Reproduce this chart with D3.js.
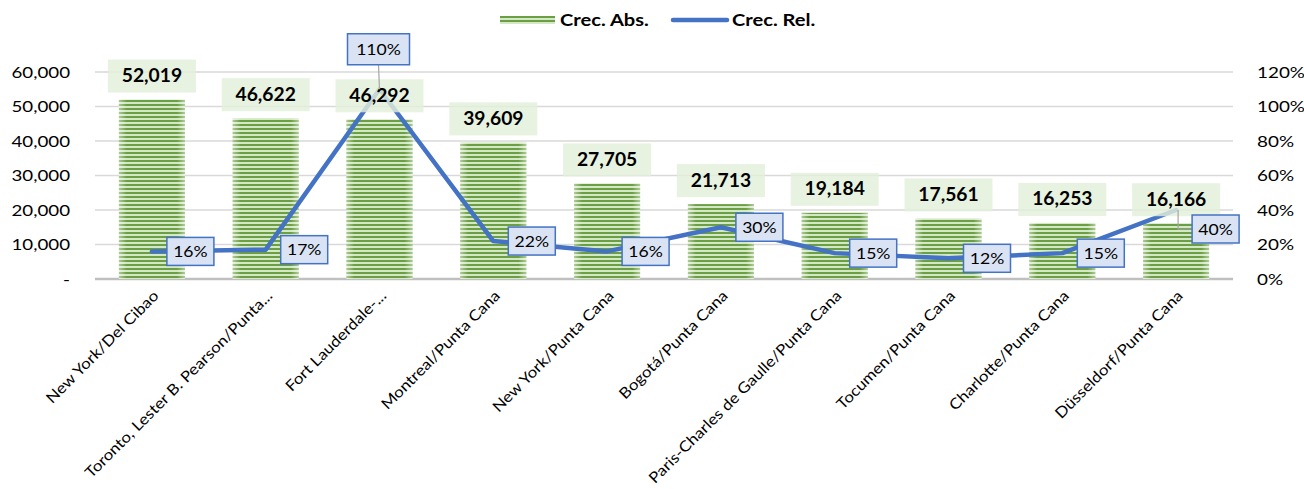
<!DOCTYPE html>
<html><head><meta charset="utf-8">
<script src="https://cdn.jsdelivr.net/npm/d3@7"></script>
<style>body{margin:0;background:#fff}svg{display:block;font-family:Lato,"Open Sans",sans-serif}</style>
</head><body><svg id="c" width="1304" height="489"></svg>
<script>
const categories = ["New York/Del Cibao","Toronto, Lester B. Pearson/Punta...","Fort Lauderdale-...","Montreal/Punta Cana","New York/Punta Cana","Bogotá/Punta Cana","Paris-Charles de Gaulle/Punta Cana","Tocumen/Punta Cana","Charlotte/Punta Cana","Düsseldorf/Punta Cana"];
const crecAbs = [52019,46622,46292,39609,27705,21713,19184,17561,16253,16166];
const crecRel = [0.16,0.17,1.10,0.22,0.16,0.30,0.15,0.12,0.15,0.40];
const leftTicks = [0,10000,20000,30000,40000,50000,60000];
const rightTicks = [0,0.2,0.4,0.6,0.8,1.0,1.2];

const svg = d3.select("#c");
const m = {l:95, r:1233, t:72, b:279};
const x = d3.scaleBand().domain(categories).range([m.l,m.r]).paddingInner(0.42).paddingOuter(0.21);
const y = d3.scaleLinear().domain([0,60000]).range([m.b,m.t]);
const y2 = d3.scaleLinear().domain([0,1.2]).range([m.b,m.t]);
const cx = d => x(d)+x.bandwidth()/2;

const defs = svg.append("defs");
const pat = defs.append("pattern").attr("id","stripes").attr("patternUnits","userSpaceOnUse").attr("width",8).attr("height",4);
pat.append("rect").attr("width",8).attr("height",4).attr("fill","#d3e8c4");
pat.append("rect").attr("width",8).attr("height",2).attr("fill","#6c9f44");
const gr = defs.append("linearGradient").attr("id","edge").attr("x1",0).attr("x2",1);
gr.append("stop").attr("offset",0).attr("stop-color","#fff").attr("stop-opacity",0.45);
gr.append("stop").attr("offset",0.12).attr("stop-color","#fff").attr("stop-opacity",0);
gr.append("stop").attr("offset",0.88).attr("stop-color","#fff").attr("stop-opacity",0);
gr.append("stop").attr("offset",1).attr("stop-color","#fff").attr("stop-opacity",0.45);

// gridlines
svg.append("g").selectAll("line").data(leftTicks.slice(1)).join("line")
  .attr("x1",m.l).attr("x2",m.r).attr("y1",d=>y(d)).attr("y2",d=>y(d))
  .attr("stroke","#d9d9d9").attr("stroke-width",1.3);
svg.append("line").attr("x1",m.l).attr("x2",m.r).attr("y1",m.b).attr("y2",m.b).attr("stroke","#bfbfbf").attr("stroke-width",2.5);

// helper: horizontally stretched text
function stext(g, tx, ty, str, opts){
  const t = g.append("text").attr("transform",`translate(${tx},${ty}) scale(${opts.sx||1},1)`)
    .attr("dy","0.36em").attr("text-anchor",opts.anchor||"middle")
    .attr("font-size",opts.size).attr("fill","#000").text(str);
  if (opts.bold) t.attr("font-weight","bold");
  return t;
}

// axes labels
const la = svg.append("g");
leftTicks.forEach(d=>stext(la,70,y(d),d===0?"-":d3.format(",")(d),{anchor:"end",size:16,sx:1.17}));
const ra = svg.append("g");
rightTicks.forEach(d=>stext(ra,1257,y2(d),d3.format(".0%")(d),{anchor:"start",size:16,sx:1.18}));

// bars
const bars = svg.append("g");
bars.selectAll("rect.b").data(categories).join("rect").attr("class","b")
  .attr("x",d=>x(d)).attr("width",x.bandwidth())
  .attr("y",(d,i)=>y(crecAbs[i])).attr("height",(d,i)=>m.b-y(crecAbs[i]))
  .attr("fill","url(#stripes)");
bars.selectAll("rect.e").data(categories).join("rect").attr("class","e")
  .attr("x",d=>x(d)).attr("width",x.bandwidth())
  .attr("y",(d,i)=>y(crecAbs[i])).attr("height",(d,i)=>m.b-y(crecAbs[i]))
  .attr("fill","url(#edge)");

// line
const pts = categories.map((c,i)=>[cx(c), y2(crecRel[i])]);
svg.append("path").attr("d",d3.line()(pts)).attr("fill","none").attr("stroke","#4472c4").attr("stroke-width",4.5).attr("stroke-linejoin","round").attr("stroke-linecap","round");

// bar value labels
const bl = svg.append("g");
categories.forEach((c,i)=>{
  const tx = cx(c), ty = y(crecAbs[i]) - 24;
  bl.append("rect").attr("x",tx-44).attr("y",ty-16).attr("width",88).attr("height",33).attr("fill","#e2efda").attr("fill-opacity",0.82);
  stext(bl,tx,ty,d3.format(",")(crecAbs[i]),{size:18,bold:true,sx:1.07});
});

// rel labels
const rl = svg.append("g");
categories.forEach((c,i)=>{
  const px = cx(c), py = y2(crecRel[i]);
  let w = 47, h = 28, bx = px+15+w/2, by = py;
  if (i===2){ w = 62; h = 31; bx = px-1; by = py-40; }
  if (i===9){ bx = px+16+w/2; by = py+19; }
  if (i===2 || i===9){
    const pts2 = i===2 ? [[px,py],[bx,by+h/2]] : [[px+2,py],[px+2,by],[bx-w/2,by]];
    rl.append("path").attr("d",d3.line()(pts2)).attr("fill","none").attr("stroke","#a6a6a6").attr("stroke-width",1.2);
  }
  rl.append("rect").attr("x",bx-w/2).attr("y",by-h/2).attr("width",w).attr("height",h)
    .attr("fill","#dae3f3").attr("stroke","#4472c4").attr("stroke-width",1.5);
  stext(rl,bx,by,d3.format(".0%")(crecRel[i]),{size:16,sx:1.1});
});

// x labels
svg.append("g").selectAll("text").data(categories).join("text")
  .attr("transform",d=>`translate(${cx(d)+4},${m.b+14}) rotate(-45) scale(1.13,1)`)
  .attr("text-anchor","end").attr("dy","0.35em").attr("font-size",15).attr("fill","#000").text(d=>d);

// legend
const lg = svg.append("g");
lg.append("rect").attr("x",500).attr("y",16).attr("width",55).attr("height",8).attr("fill","url(#stripes)");
stext(lg,560,20,"Crec. Abs.",{anchor:"start",size:17.5,bold:true,sx:1.15});
lg.append("line").attr("x1",673).attr("x2",727).attr("y1",20).attr("y2",20).attr("stroke","#4472c4").attr("stroke-width",4.5).attr("stroke-linecap","round");
stext(lg,732,20,"Crec. Rel.",{anchor:"start",size:17.5,bold:true,sx:1.15});
</script></body></html>
